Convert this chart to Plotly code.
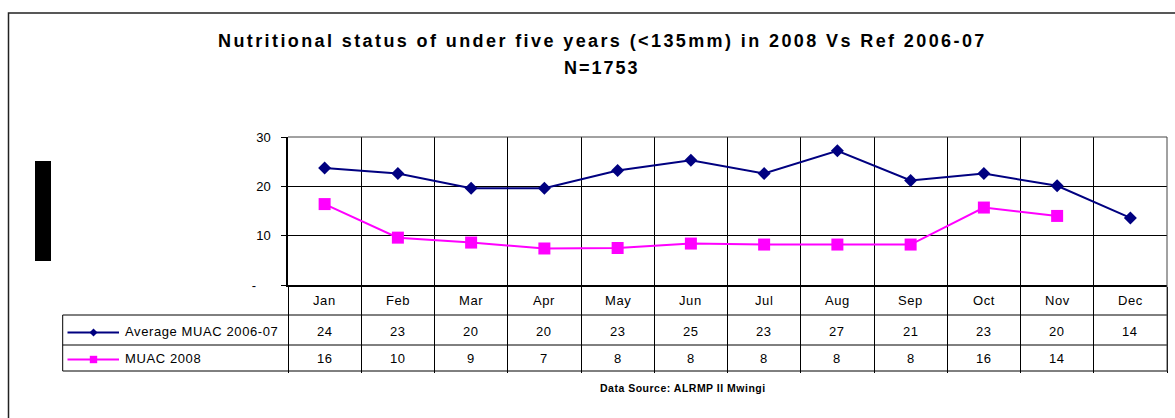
import plotly.graph_objects as go

# ---------------- data ----------------
months = ["Jan", "Feb", "Mar", "Apr", "May", "Jun", "Jul", "Aug", "Sep", "Oct", "Nov", "Dec"]
avg_2006_07 = [23.7, 22.6, 19.6, 19.6, 23.2, 25.3, 22.6, 27.2, 21.2, 22.6, 20.1, 13.6]
muac_2008 = [16.4, 9.6, 8.6, 7.4, 7.5, 8.4, 8.2, 8.2, 8.2, 15.7, 14.0, None]
avg_table = ["24", "23", "20", "20", "23", "25", "23", "27", "21", "23", "20", "14"]
muac_table = ["16", "10", "9", "7", "8", "8", "8", "8", "8", "16", "14", ""]
series_names = ["Average MUAC 2006-07", "MUAC 2008"]
y_ticks = [0, 10, 20, 30]
y_ticktext = ["-\u00a0\u00a0\u00a0\u00a0", "10", "20", "30"]
title_1 = "Nutritional status of under five years (<135mm) in 2008 Vs Ref 2006-07"
title_2 = "N=1753"
source = "Data Source: ALRMP II Mwingi"

NAVY = "#000080"
PINK = "#FF00FF"
FONT = "Liberation Sans, Arial, sans-serif"

W, H = 1175, 418
ML, MR, MT, MB = 288, 8, 137, 133
PW, PH = W - ML - MR, H - MT - MB


def PX(x):
    return (x - ML) / PW


def PY(y):
    return (H - MB - y) / PH


def sp(t, s):
    return f'<span style="letter-spacing:{s}px">{t}</span>'


fig = go.Figure()
fig.add_trace(go.Scatter(
    x=months, y=avg_2006_07, mode="lines+markers", name=series_names[0],
    line=dict(color=NAVY, width=2), marker=dict(symbol="diamond", size=10, color=NAVY),
    cliponaxis=False))
fig.add_trace(go.Scatter(
    x=months, y=muac_2008, mode="lines+markers", name=series_names[1],
    line=dict(color=PINK, width=2), marker=dict(symbol="square", size=12, color=PINK),
    connectgaps=False, cliponaxis=False))

shapes = []
# outer frame
shapes.append(dict(type="rect", xref="paper", yref="paper", x0=PX(8.5), x1=PX(1185),
                   y0=PY(13), y1=PY(430), line=dict(color="#222", width=1.5)))
# black bar on the left
shapes.append(dict(type="rect", xref="paper", yref="paper", x0=PX(35), x1=PX(51),
                   y0=PY(161), y1=PY(261), line=dict(width=0), fillcolor="black"))
# table horizontal lines
for yy in (315, 345, 371):
    shapes.append(dict(type="line", xref="paper", yref="paper", x0=PX(62.7), x1=1,
                       y0=PY(yy), y1=PY(yy), line=dict(color="black", width=1)))
# legend column left edge
shapes.append(dict(type="line", xref="paper", yref="paper", x0=PX(62.7), x1=PX(62.7),
                   y0=PY(315), y1=PY(371), line=dict(color="black", width=1)))
# right border of plot + table
shapes.append(dict(type="line", xref="paper", yref="paper", x0=1, x1=1,
                   y0=1, y1=PY(371), line=dict(color="#444", width=1)))
# top border
shapes.append(dict(type="line", xref="paper", yref="paper", x0=0, x1=1,
                   y0=1, y1=1, line=dict(color="#444", width=1)))

# legend keys in table
rows_y = [332.5, 359.5]
colors = [NAVY, PINK]
for ry, c, kind in zip(rows_y, colors, ["diamond", "square"]):
    shapes.append(dict(type="line", xref="paper", yref="paper", x0=PX(67.5), x1=PX(119),
                       y0=PY(ry), y1=PY(ry), line=dict(color=c, width=2)))
    if kind == "diamond":
        path = "M -4 0 L 0 4 L 4 0 L 0 -4 Z"
    else:
        path = "M -3.7 -3.7 L 3.7 -3.7 L 3.7 3.7 L -3.7 3.7 Z"
    shapes.append(dict(type="path", xref="paper", yref="paper", xsizemode="pixel",
                       ysizemode="pixel", xanchor=PX(93.5), yanchor=PY(ry), path=path,
                       fillcolor=c, line=dict(color=c, width=0)))

ann = []
ann.append(dict(text="<b>" + sp(title_1.replace("<", "&lt;"), 2.4) + "</b>", x=PX(602), y=PY(41),
                xref="paper", yref="paper", showarrow=False, xanchor="center", yanchor="middle",
                font=dict(family=FONT, size=18, color="black")))
ann.append(dict(text="<b>" + sp(title_2, 2.0) + "</b>", x=PX(602), y=PY(68),
                xref="paper", yref="paper", showarrow=False, xanchor="center", yanchor="middle",
                font=dict(family=FONT, size=18, color="black")))
ann.append(dict(text="<b>" + sp(source, 0.5) + "</b>", x=PX(683), y=PY(388),
                xref="paper", yref="paper", showarrow=False, xanchor="center", yanchor="middle",
                font=dict(family=FONT, size=10.5, color="black")))
for m, a, b in zip(months, avg_table, muac_table):
    ann.append(dict(text=sp(m, 0.6), x=m, y=PY(300), xref="x", yref="paper", showarrow=False,
                    xanchor="center", yanchor="middle", font=dict(family=FONT, size=13, color="black")))
    ann.append(dict(text=sp(a, 0.6), x=m, y=PY(rows_y[0] - 1), xref="x", yref="paper", showarrow=False,
                    xanchor="center", yanchor="middle", font=dict(family=FONT, size=13, color="black")))
    if b:
        ann.append(dict(text=sp(b, 0.6), x=m, y=PY(rows_y[1] - 1), xref="x", yref="paper",
                        showarrow=False, xanchor="center", yanchor="middle",
                        font=dict(family=FONT, size=13, color="black")))
for name, ry in zip(series_names, rows_y):
    ann.append(dict(text=sp(name, 0.6), x=PX(123), y=PY(ry - 1), xref="paper", yref="paper",
                    showarrow=False, xanchor="left", yanchor="middle",
                    font=dict(family=FONT, size=13, color="black")))

fig.update_layout(
    width=W, height=H,
    margin=dict(l=ML, r=MR, t=MT, b=MB, autoexpand=False),
    paper_bgcolor="white", plot_bgcolor="white",
    showlegend=False,
    shapes=shapes, annotations=ann,
    xaxis=dict(type="category", categoryorder="array", categoryarray=months,
               range=[-0.5, 11.5], tickson="boundaries", showgrid=True, gridcolor="black",
               gridwidth=1, showticklabels=False, ticks="outside", ticklen=86,
               tickcolor="black", tickwidth=1, showline=True, linecolor="black",
               linewidth=2, zeroline=False, fixedrange=True),
    yaxis=dict(range=[0, 30], tickvals=y_ticks, ticktext=y_ticktext, showgrid=True,
               gridcolor="black", gridwidth=1, showline=True, linecolor="black", linewidth=1.5,
               ticks="outside", ticklen=5, tickcolor="black", ticklabelstandoff=8,
               tickfont=dict(family=FONT, size=13, color="black"), zeroline=False,
               fixedrange=True),
)

fig.write_html("out.html", config={"displayModeBar": False},
               post_script="document.body.style.margin='0';document.body.style.padding='0';")
